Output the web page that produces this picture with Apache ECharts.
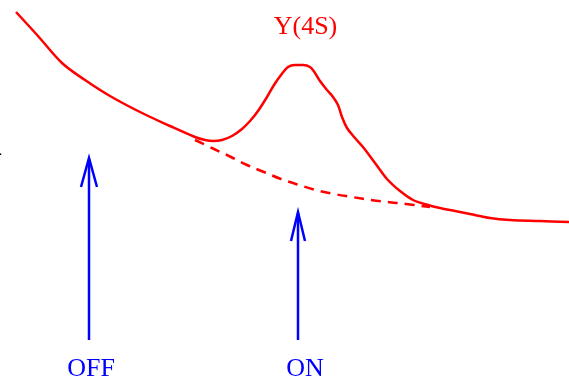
<!DOCTYPE html>
<html><head><meta charset="utf-8">
<script src="https://cdn.jsdelivr.net/npm/echarts@6/dist/echarts.min.js"></script>
<style>html,body{margin:0;padding:0;background:#fff}#c{width:569px;height:381px}</style>
</head><body><div id="c"></div>
<script>
// Cross-section curve (solid), continuum under resonance (dashed), and ON/OFF energy arrows
const solidCurve = [[16,12],[38,36],[62,63],[85,80],[110,96],[140,112],[170,126],[195,137],[205,140],[213,141],[222,140],[232,136],[242,129],[250,121],[258,111],[267,97],[274,85],[281,75],[288,67],[295,65],[303,65],[310,67],[315,73],[320,81],[327,90],[333,97],[338,105],[342,117],[347,128],[355,138],[363,147],[375,163],[387,179],[400,191],[413,200],[428,205],[440,208],[455,211],[470,214],[490,218],[510,220],[540,221],[569,222]];
const dashedCurve = [[195,140],[214,149],[231,157],[247,165],[264,172],[281,179],[299,185],[316,190],[334,194],[352,197],[371,200],[387,202],[406,204],[430,207]];
const offShaft = [[89,340],[89,159]];
const offHead = [[81,187],[89,158],[97,187]];
const onShaft = [[298,340],[298,213]];
const onHead = [[291,241],[298,212],[305,241]];
const labels = ['Y(4S)','OFF','ON','σ'];

const red = '#ff0000', blue = '#0000ff';
function ln(data, color, width, type, smooth){
  return {type:'line', data, smooth: smooth||false, showSymbol:false, symbol:'none', silent:true, animation:false,
    lineStyle:{color, width, type: type||'solid', cap:'butt', join:'miter'}};
}
const font = '26px "Liberation Serif"';
const chart = echarts.init(document.getElementById('c'), null, {renderer:'canvas'});
chart.setOption({
  animation:false,
  grid:{left:0,right:0,top:0,bottom:0},
  xAxis:{type:'value',min:0,max:569,show:false},
  yAxis:{type:'value',min:0,max:381,inverse:true,show:false},
  series:[
    ln(solidCurve, red, 2.5, 'solid', 0.35),
    ln(dashedCurve, red, 2.5, [10,7], 0.4),
    ln(offShaft, blue, 2.5),
    ln(offHead, blue, 2.5),
    ln(onShaft, blue, 2.5),
    ln(onHead, blue, 2.5)
  ],
  graphic:[
    {type:'text', style:{x:305.5, y:27, text:labels[0], fill:red, font, align:'center', verticalAlign:'middle'}},
    {type:'text', style:{x:91, y:369, text:labels[1], fill:blue, font, align:'center', verticalAlign:'middle'}},
    {type:'text', style:{x:305, y:369, text:labels[2], fill:blue, font, align:'center', verticalAlign:'middle'}},
    {type:'text', style:{x:1.5, y:159, text:labels[3], fill:'#000', font:'20px "Liberation Serif"', align:'right', verticalAlign:'middle'}}
  ]
});
</script></body></html>
